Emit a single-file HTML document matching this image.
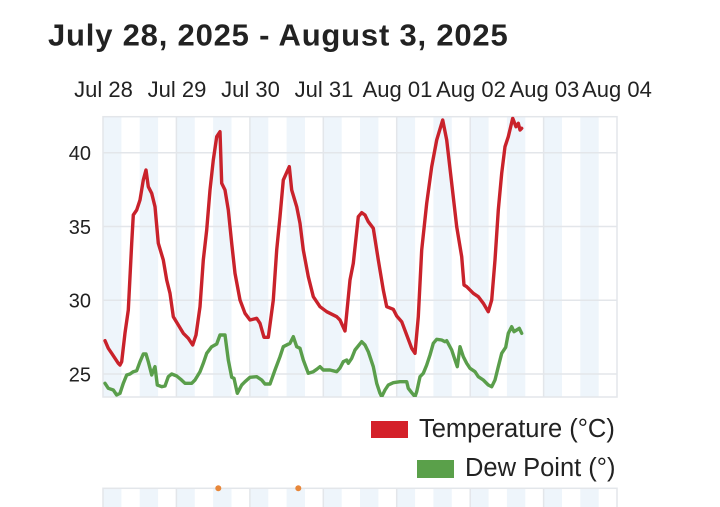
<!DOCTYPE html>
<html><head><meta charset="utf-8">
<style>
html,body{margin:0;padding:0;background:#fff;}
body{width:720px;height:507px;overflow:hidden;}
svg{display:block;}
text{font-family:"Liberation Sans",sans-serif;fill:#222;}
</style></head><body>
<svg width="720" height="507" viewBox="0 0 720 507" xmlns="http://www.w3.org/2000/svg">
<defs><clipPath id="pc"><rect x="103" y="116.7" width="514" height="280.3"/></clipPath>
<clipPath id="bc"><rect x="103" y="488" width="514" height="30"/></clipPath></defs>
<text x="48" y="45.5" font-size="31" font-weight="bold" letter-spacing="0.8" style="fill:#222">July 28, 2025 - August 3, 2025</text>
<g font-size="22" text-anchor="middle">
<text x="103.5" y="97">Jul 28</text>
<text x="177" y="97">Jul 29</text>
<text x="250.5" y="97">Jul 30</text>
<text x="324" y="97">Jul 31</text>
<text x="397.5" y="97">Aug 01</text>
<text x="471" y="97">Aug 02</text>
<text x="544.5" y="97">Aug 03</text>
<text x="617" y="97">Aug 04</text>
</g>
<g fill="#eef5fb">
<rect x="103" y="116.7" width="18.4" height="280.3"/><rect x="139.7" y="116.7" width="18.4" height="280.3"/>
<rect x="176.4" y="116.7" width="18.4" height="280.3"/><rect x="213.1" y="116.7" width="18.4" height="280.3"/>
<rect x="249.9" y="116.7" width="18.4" height="280.3"/><rect x="286.6" y="116.7" width="18.4" height="280.3"/>
<rect x="323.3" y="116.7" width="18.4" height="280.3"/><rect x="360" y="116.7" width="18.4" height="280.3"/>
<rect x="396.7" y="116.7" width="18.4" height="280.3"/><rect x="433.4" y="116.7" width="18.4" height="280.3"/>
<rect x="470.2" y="116.7" width="18.4" height="280.3"/><rect x="506.9" y="116.7" width="18.4" height="280.3"/>
<rect x="543.6" y="116.7" width="18.4" height="280.3"/><rect x="580.3" y="116.7" width="18.4" height="280.3"/>
</g>
<g stroke="#e3e6ea" stroke-width="1.5" fill="none">
<line x1="103" y1="152.7" x2="617" y2="152.7"/>
<line x1="103" y1="226.5" x2="617" y2="226.5"/>
<line x1="103" y1="300.2" x2="617" y2="300.2"/>
<line x1="103" y1="374" x2="617" y2="374"/>
<line x1="176.4" y1="116.7" x2="176.4" y2="397"/>
<line x1="249.9" y1="116.7" x2="249.9" y2="397"/>
<line x1="323.3" y1="116.7" x2="323.3" y2="397"/>
<line x1="396.7" y1="116.7" x2="396.7" y2="397"/>
<line x1="470.2" y1="116.7" x2="470.2" y2="397"/>
<line x1="543.6" y1="116.7" x2="543.6" y2="397"/>
<rect x="103" y="116.7" width="514" height="280.3"/>
</g>
<g font-size="20" text-anchor="end">
<text x="91" y="160">40</text>
<text x="91" y="233.8">35</text>
<text x="91" y="307.5">30</text>
<text x="91" y="381.3">25</text>
</g>
<g clip-path="url(#pc)" fill="none" stroke-width="3.4" stroke-linejoin="round" stroke-linecap="round">
<polyline stroke="#5a9e4b" points="105,383.3 108.3,388.3 113.3,390 116.7,395 120,393.3 123.3,383.3 126.7,375 130,374 133.3,371.7 136.7,370.7 140,361.7 143.3,354 146,354 148.3,361.7 151.7,375 153.3,370.7 155,366.7 157.3,385 161.7,386.7 165,386 168.3,376.7 171.7,374 176.7,376 180.7,379.3 185,383.3 191.7,383.3 195,380 200,371.7 203.3,363.3 206.7,353.3 211.7,346.7 216.7,344 220,335 225,335 228.3,360 231.7,377.3 234,378.3 237.3,393.3 241.7,385 245,381.7 250,377.3 256.7,376.7 261.7,380 265,384 270,384 275,370 280,356.7 283.3,346.7 290,343.3 293.3,336.7 296.7,346.7 300,348.3 303.3,360 308.3,373.3 313.3,371.7 316.7,369.3 320,366.7 323.3,370 330,370 336.7,371.7 340,368 343.3,361.7 346.7,360 348.3,363.3 351.7,358.3 355,350 361.7,341.7 365,345 368.3,351.7 373.3,366.7 376.7,383.3 380,393.3 381.7,396.7 385,390 388.3,385 393.3,382.7 400,381.7 406.7,381.7 408.3,388.3 411.7,392.7 415,396.7 416.7,391.7 420,376.7 423.3,373.3 426.7,365 430,355 433.3,343.3 436.7,339.3 441.7,340 445,341.7 446.7,340.7 451.7,350 455,360 457.3,366.7 460,346.7 463.3,356.7 466.7,363.3 470,368.3 475,371.7 478.3,376.7 483.3,380 488.3,385 491.7,386.7 495,380 498.3,366.7 501.7,353.3 505.7,347.3 508.3,333.3 511.7,326.7 514,331.7 516.7,330 519.3,328.3 521.7,333.3"/>
<polyline stroke="#c9222b" points="105,340.7 108.3,348.3 111.7,353.3 118.3,363.3 120,365 121.7,361.7 125,333 128.3,310 131.7,243.3 133.3,215 136.7,210 140,200 143.3,180 146,170 148.3,186.7 151.7,193.3 155,206.7 158.3,243.3 163.3,260 166.7,280 170,293.3 173.3,316.7 178.3,325 183.3,333.3 188.3,338.3 192.7,345 196,335 200,306.7 203.3,260 206.7,230 210,190 213.3,160 216.7,136.7 220,131.7 221.7,183.3 225,190 228.3,210 231.7,243.3 235,273.3 240,300 245,313.3 250,320 256.7,318.3 260,323.3 264,337.3 268.3,337.3 273.3,300 276.7,250 280,216.7 283.3,180 289.3,166.7 291.7,190 296.7,206.7 300,223.3 303.3,250 308.3,276.7 313.3,296.7 320,306.7 326.7,311.7 336.7,316.7 340,320 345,331 350,280 353.3,263.3 358.3,216.7 361.7,212.7 365,215 368.3,221.7 373.3,228.3 378.3,260 383.3,290 386.7,306.7 393.3,309.3 396.7,316 401.7,321.7 406.7,335 411.7,348.3 415,353.3 418.3,316.7 421.7,250 426.7,203.3 431.7,166.7 436.7,140 442.7,120 446.7,140 451.7,183.3 456.7,226.7 461.7,256.7 464,285 466.7,286.7 473.3,293.3 478.3,296.7 483.3,303.3 488.3,311.7 491.7,300 495,260 498.3,210 501.7,173.3 505,146.7 508.3,136.7 512.7,118.3 516,126.7 518.3,123.3 520,130 521.7,128.3"/>
</g>
<rect x="371" y="421" width="37" height="17" fill="#d42029"/>
<text x="419" y="437" font-size="25.5">Temperature (°C)</text>
<rect x="417" y="460" width="37" height="18" fill="#5aa04a"/>
<text x="465" y="476" font-size="25.5">Dew Point (°)</text>
<g clip-path="url(#bc)">
<g fill="#eef5fb">
<rect x="103" y="488" width="18.4" height="30"/><rect x="139.7" y="488" width="18.4" height="30"/>
<rect x="176.4" y="488" width="18.4" height="30"/><rect x="213.1" y="488" width="18.4" height="30"/>
<rect x="249.9" y="488" width="18.4" height="30"/><rect x="286.6" y="488" width="18.4" height="30"/>
<rect x="323.3" y="488" width="18.4" height="30"/><rect x="360" y="488" width="18.4" height="30"/>
<rect x="396.7" y="488" width="18.4" height="30"/><rect x="433.4" y="488" width="18.4" height="30"/>
<rect x="470.2" y="488" width="18.4" height="30"/><rect x="506.9" y="488" width="18.4" height="30"/>
<rect x="543.6" y="488" width="18.4" height="30"/><rect x="580.3" y="488" width="18.4" height="30"/>
</g>
<g stroke="#e3e6ea" stroke-width="1.5" fill="none">
<line x1="176.4" y1="488" x2="176.4" y2="510"/><line x1="249.9" y1="488" x2="249.9" y2="510"/>
<line x1="323.3" y1="488" x2="323.3" y2="510"/><line x1="396.7" y1="488" x2="396.7" y2="510"/>
<line x1="470.2" y1="488" x2="470.2" y2="510"/><line x1="543.6" y1="488" x2="543.6" y2="510"/>
</g>
</g>
<rect x="103" y="488.3" width="514" height="30" fill="none" stroke="#e3e6ea" stroke-width="1.5"/>
<circle cx="218.3" cy="488.3" r="3" fill="#e8873a"/>
<circle cx="298.3" cy="488.3" r="3" fill="#e8873a"/>
</svg>
</body></html>
